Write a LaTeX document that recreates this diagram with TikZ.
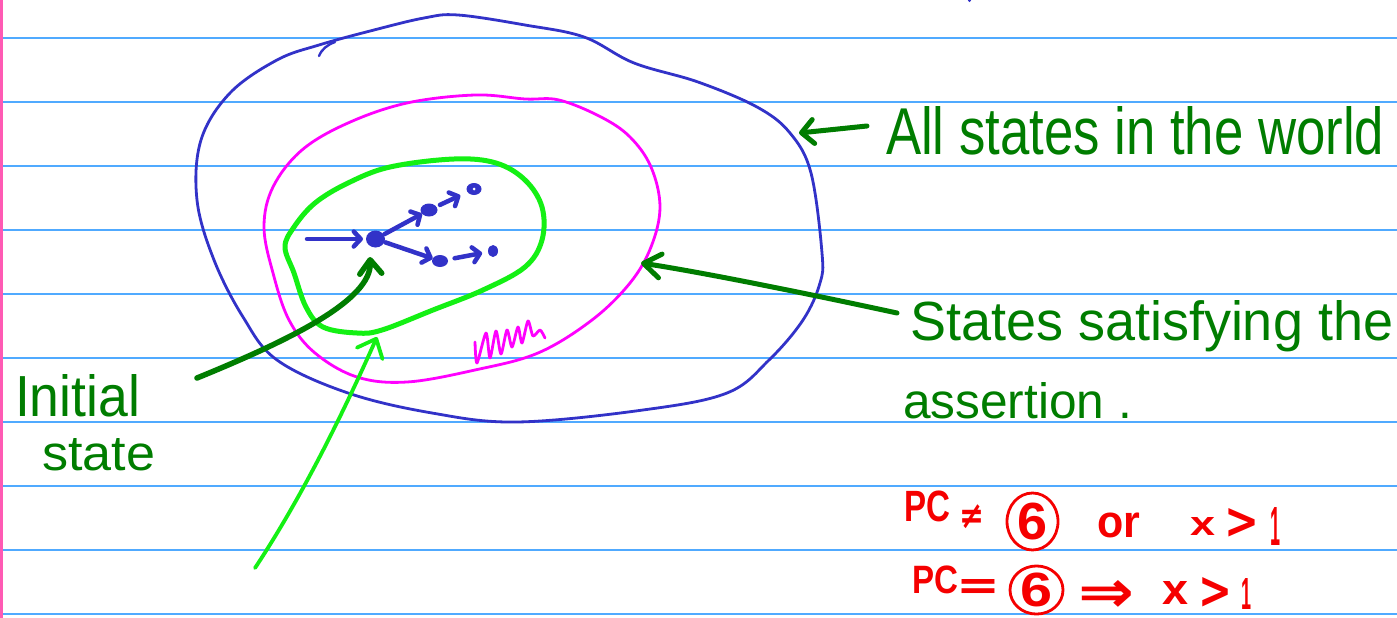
\documentclass[tikz,border=0pt]{standalone}
\usepackage{fontspec}
\setmainfont{Liberation Sans}
\newfontfamily\symfam{DejaVu Sans}
\usetikzlibrary{arrows.meta,shapes.geometric}
\definecolor{rulecol}{RGB}{80,170,255}
\definecolor{margincol}{RGB}{255,90,180}
\definecolor{worldblue}{RGB}{50,50,200}
\definecolor{assertpink}{RGB}{255,0,255}
\definecolor{brightgreen}{RGB}{20,240,20}
\definecolor{inkgreen}{RGB}{0,125,0}
\definecolor{inkred}{RGB}{245,0,0}
\newcommand{\fitbox}[3]{\resizebox*{#1pt}{#2pt}{#3}}
\newcommand{\fitbase}[3]{\resizebox{#1pt}{#2pt}{#3}}
\begin{document}
\begin{tikzpicture}[x=1pt,y=-1pt,
  ruleline/.style={rulecol,line width=2pt},
  txt/.style={inner sep=0pt,outer sep=0pt},
  greentext/.style={txt,text=inkgreen},
  redtext/.style={txt,text=inkred,font=\bfseries},
  redsym/.style={txt,text=inkred,font=\symfam\bfseries},
  circsix/.style={ellipse,draw=inkred,line width=2.8pt,inner sep=0pt,text=inkred,font=\bfseries},
  bdot/.style={ellipse,fill=worldblue,inner sep=0pt,outer sep=0pt},
  barrow/.style={worldblue,line width=4.5pt,line cap=round,-{Straight Barb[length=7pt,width=15pt,round]}},
  darrow/.style={inkgreen,line width=5pt,line cap=round,-{Straight Barb[length=14pt,width=22pt,round]}},
  larrow/.style={brightgreen,line width=3.8pt,line cap=round,-{Straight Barb[length=16pt,width=28pt,round]}},
  blobline/.style={line width=#1,line join=round,line cap=round}
]
\useasboundingbox[fill=white] (0,0) rectangle (1397,618);
% ruled paper
\foreach \y in {38,102,...,614} \draw[ruleline] (0,\y) -- (1397,\y);
\draw[margincol,line width=3pt] (1,0) -- (1,618);
\fill[worldblue] (969.5,0.5) circle (1.6);

% all states in the world (blue)
\draw[worldblue,blobline=2.8pt] plot[smooth cycle,tension=0.6] coordinates {
 (458,15) (525,25) (584,37) (634,63) (698,82) (757,107) (790,133) (811,173)
 (822,253) (820,283) (803,320) (769,360) (727,393) (643,410) (517,422)
 (432,413) (348,393) (277,360) (243,317) (214,260) (197,200) (201,140)
 (230,93) (277,60) (319,45) (374,30) (424,18)};
\draw[worldblue,blobline=2.4pt] (319,56) .. controls (322,49) and (327,45) .. (335,42);

% states satisfying the assertion (pink)
\draw[assertpink,blobline=2.8pt] plot[smooth cycle,tension=0.6] coordinates {
 (475,95) (525,99) (559,100) (601,117) (630,137) (651,167) (660,207)
 (651,247) (630,283) (592,320) (538,353) (475,370) (407,382) (357,377)
 (315,353) (289,320) (273,273) (264,227) (273,187) (302,150) (348,123) (407,103)};
\draw[assertpink,blobline=2.8pt] plot[smooth,tension=0.45] coordinates {
 (475,342) (477,363) (486,333) (490,358) (496,331) (501,354) (507,330)
 (512,347) (518,327) (522,343) (528,321) (533,336) (540,330) (545,338)};

% bright green region
\draw[brightgreen,blobline=5pt] plot[smooth cycle,tension=0.6] coordinates {
 (315,203) (348,183) (390,167) (454,159) (496,163) (525,180) (542,207)
 (542,240) (525,267) (483,290) (433,310) (382,330) (357,333) (323,327)
 (306,307) (294,273) (285,247) (294,227)};

% execution trace
\coordinate (s0) at (307,239);
\node[bdot,minimum width=19pt,minimum height=17pt] (d0) at (375.5,239) {};
\node[bdot,minimum width=17pt,minimum height=13pt] (d1) at (429,210) {};
\node[bdot,minimum width=15pt,minimum height=12pt] (d2) at (474,189) {};
\fill[white] (d2.center) circle (1.5);
\node[bdot,minimum width=16pt,minimum height=12pt] (d3) at (440,261) {};
\node[bdot,minimum width=10pt,minimum height=12pt] (d4) at (493,251) {};
\draw[barrow,shorten >=3pt] (s0) -- (d0);
\draw[barrow,shorten <=1pt] (d0) -- (d1);
\draw[barrow,shorten <=4pt,shorten >=8pt] (d1) -- (d2);
\draw[barrow,shorten <=1pt] (d0) -- (d3);
\draw[barrow,shorten <=7pt,shorten >=6pt] (d3) -- (d4);

% green labels
\node[greentext,anchor=base west] (all) at (886,154) {\fitbase{498}{48}{All states in the world}};
\node[greentext,anchor=base west] (sat) at (910,340) {\fitbase{483}{40}{States satisfying the}};
\node[greentext,anchor=base west] (assert) at (903,418) {\fitbase{229}{36}{assertion .}};
\node[greentext,anchor=base west] (init1) at (15,416) {\fitbase{125}{42}{Initial}};
\node[greentext,anchor=base west] (init2) at (42,470) {\fitbase{113}{32}{state}};

% pointers
\coordinate (wtip) at (799,133);
\coordinate (wtail) at (867,126);
\draw[darrow,-{Straight Barb[length=12pt,width=24pt,round]}] (wtail) -- (wtip);
\coordinate (stail) at (897,313);
\coordinate (stip) at (641,263);
\draw[darrow,-{Straight Barb[length=17pt,width=24pt,round]}] (stail) .. controls (800,292) and (700,272) .. (stip);
\coordinate (itail) at (197,378);
\coordinate (itip) at (370,257);
\draw[darrow,line width=5.5pt] (itail) .. controls (290,340) and (372,300) .. (itip);
\coordinate (gtail) at (255,568);
\coordinate (gtip) at (377,337);
\draw[larrow] (gtail) .. controls (300,500) and (340,420) .. (gtip);

% red assertions
\node[redtext] (pc1) at (927.5,506) {\fitbox{46}{31}{PC}};
\node[redsym] (ne1) at (972,516.5) {\fitbox{25}{24}{≠}};
\node[circsix,minimum width=51pt,minimum height=57pt] (six1) at (1032.5,521.5) {\fitbox{30}{37}{6}};
\node[redtext] (or1) at (1118.5,525.5) {\fitbox{43}{25}{or}};
\node[redtext] (x1) at (1202.5,526) {\fitbox{25}{18}{x}};
\node[redsym] (gt1) at (1241.5,523.5) {\fitbox{35}{30}{>}};
\node[redtext] (one1) at (1275.5,526) {\fitbox{10}{38}{1}};

\node[redtext] (pc2) at (935,580) {\fitbox{46}{28}{PC}};
\node[redsym] (eq2) at (978.5,589) {\fitbox{44}{20}{=}};
\node[circsix,minimum width=53pt,minimum height=48pt] (six2) at (1036.5,590) {\fitbox{32}{34}{6}};
\node[redsym] (imp2) at (1106,596) {\fitbox{56}{32}{⇒}};
\node[redtext] (x2) at (1175,593) {\fitbox{26}{23}{x}};
\node[redsym] (gt2) at (1215,593) {\fitbox{34}{31}{>}};
\node[redtext] (one2) at (1246.5,594) {\fitbox{10}{31}{1}};
\end{tikzpicture}
\end{document}
